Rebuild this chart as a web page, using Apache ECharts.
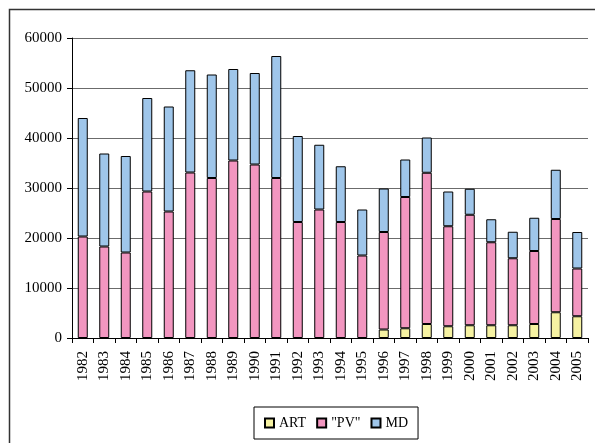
<!DOCTYPE html>
<html><head><meta charset="utf-8">
<script src="https://cdn.jsdelivr.net/npm/echarts@6/dist/echarts.min.js"></script>
<style>html,body{margin:0;padding:0;background:#fff}#c{width:595px;height:443px}</style>
</head><body><div id="c"></div>
<script>
const years = ['1982','1983','1984','1985','1986','1987','1988','1989','1990','1991','1992','1993','1994','1995','1996','1997','1998','1999','2000','2001','2002','2003','2004','2005'];
const art = ['-','-','-','-','-','-','-','-','-','-','-','-','-','-',1700,1950,2800,2350,2550,2550,2550,2800,5150,4350];
const pv  = [20300,18300,17100,29300,25300,33100,32000,35500,34700,32000,23200,25700,23200,16500,19500,26250,30250,20000,22100,16600,13400,14600,18650,9550];
const md  = [23700,18600,19300,18700,21000,20450,20700,18300,18300,24400,17200,12950,11150,9200,8700,7500,7050,6950,5200,4600,5300,6650,9850,7300];
const yTicks = [0,10000,20000,30000,40000,50000,60000];

const chart = echarts.init(document.getElementById('c'));
const border = {borderColor:'#000', borderWidth:1};
chart.setOption({
  animation:false,
  textStyle:{fontFamily:'Liberation Serif'},
  graphic:[{type:'rect', shape:{x:9.5,y:9.5,width:700,height:700}, style:{fill:'none', stroke:'#333', lineWidth:1.5}, z:-1}],
  grid:{left:72, right:7, top:38, bottom:105, containLabel:false},
  legend:{
    top:407, left:254,
    data:['ART','"PV"','MD'],
    itemWidth:9, itemHeight:9, itemGap:10,
    padding:[9,10,9,10],
    borderColor:'#000', borderWidth:1,
    textStyle:{fontFamily:'Liberation Serif', fontSize:14, color:'#000'},
    icon:'rect'
  },
  xAxis:{
    type:'category', data:years,
    axisLine:{lineStyle:{color:'#000'}},
    axisTick:{show:true, length:5, lineStyle:{color:'#000'}},
    axisLabel:{rotate:90, fontSize:15, color:'#000', fontFamily:'Liberation Serif', margin:13, interval:0}
  },
  yAxis:{
    type:'value', min:0, max:60000, interval:10000,
    axisLine:{show:true, lineStyle:{color:'#000'}},
    axisTick:{show:true, length:5, lineStyle:{color:'#000'}},
    axisLabel:{fontSize:15, color:'#000', fontFamily:'Liberation Serif', margin:10,
      formatter:v=>yTicks.includes(v)?String(v):''},
    splitLine:{show:true, lineStyle:{color:'#6b6b6b', width:1}}
  },
  series:[
    {name:'ART', type:'bar', stack:'s', data:art, barWidth:10, itemStyle:Object.assign({color:'#F6F2A2'},border)},
    {name:'"PV"', type:'bar', stack:'s', data:pv, barWidth:10, itemStyle:Object.assign({color:'#F296C0'},border)},
    {name:'MD', type:'bar', stack:'s', data:md, barWidth:10, itemStyle:Object.assign({color:'#9FC6EA'},border)}
  ]
});
</script></body></html>
